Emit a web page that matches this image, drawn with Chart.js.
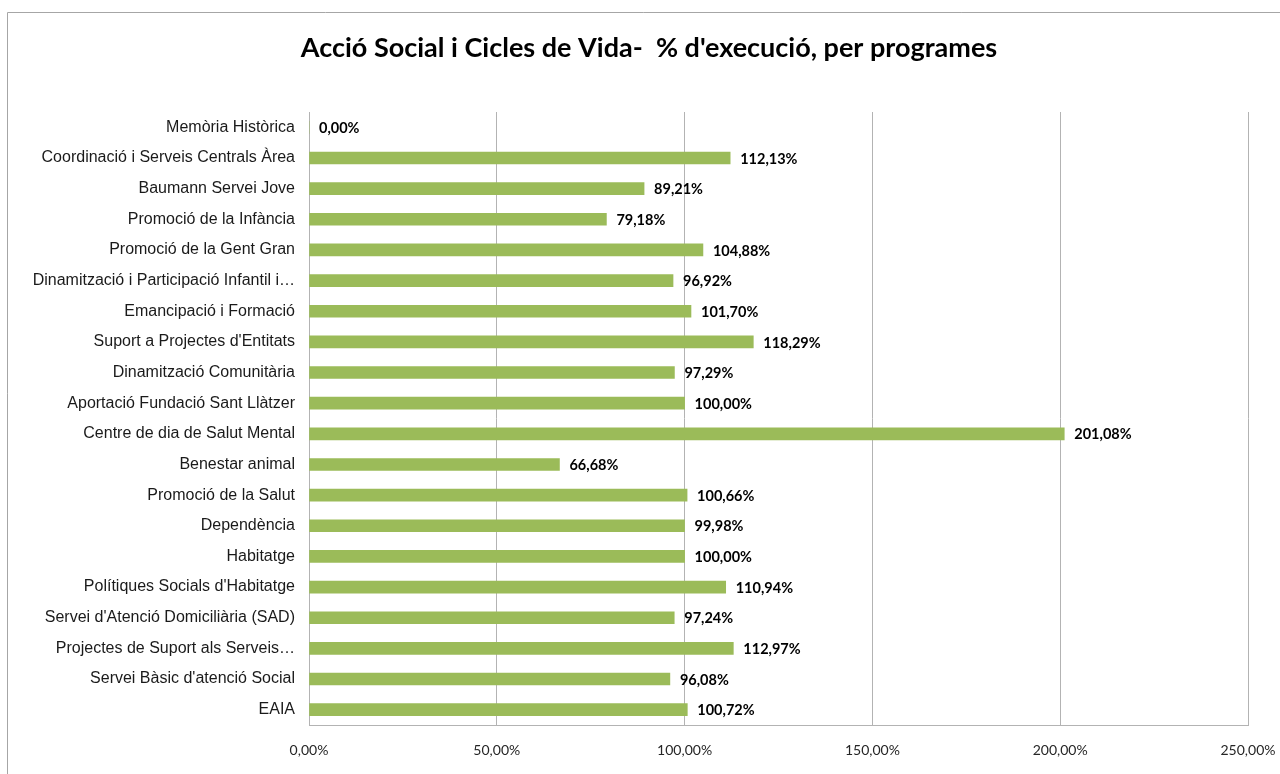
<!DOCTYPE html>
<html>
<head>
<meta charset="utf-8">
<script src="https://cdn.jsdelivr.net/npm/chart.js@4.4.0/dist/chart.umd.min.js"></script>
<style>
  html, body { margin: 0; padding: 0; background: #fff; }
  #wrap { position: relative; width: 1280px; height: 774px; }
</style>
</head>
<body>
<div id="wrap"><canvas id="c" width="1280" height="774"></canvas></div>
<script>
const titleText = "Acció Social i Cicles de Vida-  % d'execució, per programes";
const categories = [
  "Memòria Històrica",
  "Coordinació i Serveis Centrals Àrea",
  "Baumann Servei Jove",
  "Promoció de la Infància",
  "Promoció de la Gent Gran",
  "Dinamització i Participació Infantil i…",
  "Emancipació i Formació",
  "Suport a Projectes d'Entitats",
  "Dinamització Comunitària",
  "Aportació Fundació Sant Llàtzer",
  "Centre de dia de Salut Mental",
  "Benestar animal",
  "Promoció de la Salut",
  "Dependència",
  "Habitatge",
  "Polítiques Socials d'Habitatge",
  "Servei d'Atenció Domiciliària (SAD)",
  "Projectes de Suport als Serveis…",
  "Servei Bàsic d'atenció Social",
  "EAIA"
];
const executionPct = [
  0.00, 112.13, 89.21, 79.18, 104.88, 96.92, 101.70, 118.29, 97.29, 100.00,
  201.08, 66.68, 100.66, 99.98, 100.00, 110.94, 97.24, 112.97, 96.08, 100.72
];
const xTickValues = [0, 50, 100, 150, 200, 250];

const fmt = v => v.toFixed(2).replace('.', ',') + '%';

const frame = {
  id: 'frame',
  beforeDraw(chart) {
    const ctx = chart.ctx;
    ctx.save();
    ctx.fillStyle = '#fff';
    ctx.fillRect(0, 0, chart.width, chart.height);
    ctx.strokeStyle = '#a6a6a6';
    ctx.lineWidth = 1;
    ctx.beginPath();
    ctx.moveTo(7.5, chart.height);
    ctx.lineTo(7.5, 12.5);
    ctx.lineTo(chart.width, 12.5);
    ctx.stroke();
    ctx.restore();
  },
  afterDraw(chart) {
    const ctx = chart.ctx;
    ctx.save();
    ctx.font = 'bold 27px Lato, "Open Sans", sans-serif';
    ctx.fillStyle = '#000';
    ctx.textAlign = 'center';
    ctx.textBaseline = 'middle';
    ctx.fillText(titleText, 649, 48);
    ctx.restore();
  }
};

const valueLabels = {
  id: 'valueLabels',
  afterDatasetsDraw(chart) {
    const ctx = chart.ctx;
    const meta = chart.getDatasetMeta(0);
    ctx.save();
    ctx.font = 'bold 14.5px Lato, "Open Sans", sans-serif';
    ctx.fillStyle = '#000';
    ctx.textAlign = 'left';
    ctx.textBaseline = 'middle';
    meta.data.forEach((bar, i) => {
      ctx.fillText(fmt(executionPct[i]), bar.x + 10, bar.y + 1);
    });
    ctx.restore();
  }
};

new Chart(document.getElementById('c'), {
  type: 'bar',
  data: {
    labels: categories,
    datasets: [{
      data: executionPct,
      backgroundColor: '#9BBB59',
      borderWidth: 0,
      barThickness: 12
    }]
  },
  plugins: [frame, valueLabels],
  options: {
    indexAxis: 'y',
    responsive: false,
    animation: false,
    layout: { padding: { left: 0, right: 32, top: 112, bottom: 0 } },
    plugins: {
      legend: { display: false },
      tooltip: { enabled: false },
      title: { display: false }
    },
    scales: {
      x: {
        min: 0, max: 250,
        afterBuildTicks: s => { s.ticks = xTickValues.map(v => ({ value: v })); },
        afterFit: s => { s.height = 49; s.paddingLeft = 0; s.paddingRight = 0; },
        grid: { color: '#b3b3b3', drawTicks: false },
        border: { color: '#b3b3b3' },
        ticks: {
          padding: 17,
          color: '#262626',
          font: { family: 'Lato, "Open Sans", sans-serif', size: 14 },
          callback: v => fmt(v)
        }
      },
      y: {
        afterFit: s => { s.width = 309; s.paddingTop = 0; s.paddingBottom = 0; },
        grid: { display: false, drawTicks: false },
        border: { color: '#b3b3b3' },
        ticks: {
          padding: 14,
          color: '#1a1a1a',
          autoSkip: false,
          font: { family: '"Liberation Sans", Arial, sans-serif', size: 16 }
        }
      }
    }
  }
});
</script>
</body>
</html>
